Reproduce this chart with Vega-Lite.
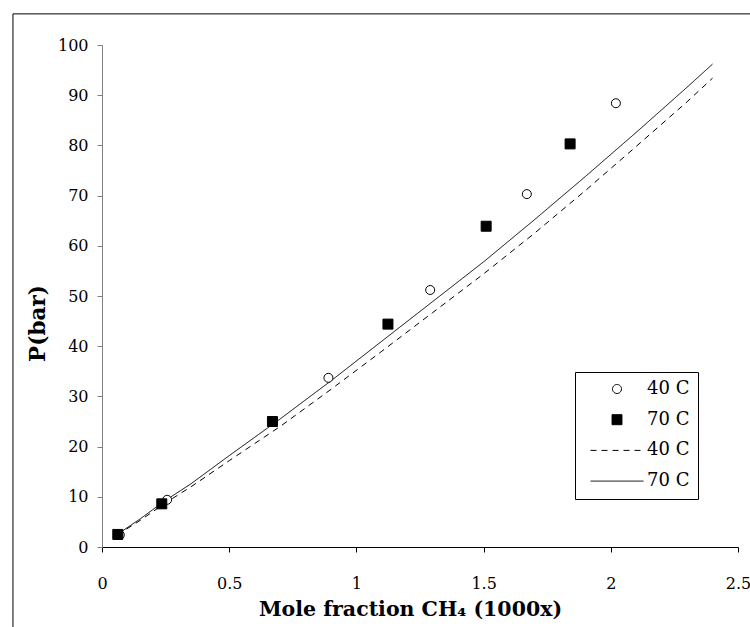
{
  "$schema": "https://vega.github.io/schema/vega-lite/v6.json",
  "width": 636,
  "height": 502,
  "padding": {"left": 12, "top": 13, "right": 0, "bottom": 0},
  "autosize": {"type": "pad"},
  "background": "white",
  "config": {
    "view": {"stroke": null},
    "font": "DejaVu Serif",
    "axis": {"labelFont": "DejaVu Serif", "titleFont": "DejaVu Serif", "labelColor": "black", "titleColor": "black", "grid": false},
    "legend": {"labelFont": "DejaVu Serif"}
  },
  "datasets": {
    "frame": [{"x0": -0.35, "x1": 2.6, "y0": 106.2, "y1": -17.5}],
    "obs": [
      {"x": 0.07, "P": 2.4, "key": "p40"},
      {"x": 0.256, "P": 9.4, "key": "p40"},
      {"x": 0.89, "P": 33.7, "key": "p40"},
      {"x": 1.29, "P": 51.2, "key": "p40"},
      {"x": 1.67, "P": 70.3, "key": "p40"},
      {"x": 2.02, "P": 88.4, "key": "p40"},
      {"x": 0.062, "P": 2.5, "key": "p70"},
      {"x": 0.235, "P": 8.6, "key": "p70"},
      {"x": 0.67, "P": 25.0, "key": "p70"},
      {"x": 1.124, "P": 44.4, "key": "p70"},
      {"x": 1.51, "P": 63.9, "key": "p70"},
      {"x": 1.84, "P": 80.3, "key": "p70"}
    ],
    "model": [
      {"x": 0.06, "P": 2.4, "key": "l40"},
      {"x": 0.15, "P": 5.3, "key": "l40"},
      {"x": 0.25, "P": 8.8, "key": "l40"},
      {"x": 0.35, "P": 12.0, "key": "l40"},
      {"x": 0.5, "P": 17.2, "key": "l40"},
      {"x": 0.7, "P": 24.0, "key": "l40"},
      {"x": 0.9, "P": 31.4, "key": "l40"},
      {"x": 1.1, "P": 39.0, "key": "l40"},
      {"x": 1.3, "P": 46.7, "key": "l40"},
      {"x": 1.5, "P": 54.4, "key": "l40"},
      {"x": 1.7, "P": 62.5, "key": "l40"},
      {"x": 1.9, "P": 71.0, "key": "l40"},
      {"x": 2.1, "P": 79.8, "key": "l40"},
      {"x": 2.3, "P": 88.7, "key": "l40"},
      {"x": 2.4, "P": 93.4, "key": "l40"},
      {"x": 0.06, "P": 2.5, "key": "l70"},
      {"x": 0.15, "P": 5.6, "key": "l70"},
      {"x": 0.25, "P": 9.3, "key": "l70"},
      {"x": 0.35, "P": 12.6, "key": "l70"},
      {"x": 0.5, "P": 18.2, "key": "l70"},
      {"x": 0.7, "P": 25.5, "key": "l70"},
      {"x": 0.9, "P": 33.1, "key": "l70"},
      {"x": 1.1, "P": 41.0, "key": "l70"},
      {"x": 1.3, "P": 48.9, "key": "l70"},
      {"x": 1.5, "P": 56.8, "key": "l70"},
      {"x": 1.7, "P": 65.2, "key": "l70"},
      {"x": 1.9, "P": 73.8, "key": "l70"},
      {"x": 2.1, "P": 82.6, "key": "l70"},
      {"x": 2.3, "P": 91.6, "key": "l70"},
      {"x": 2.4, "P": 96.2, "key": "l70"}
    ]
  },
  "layer": [
    {
      "data": {"name": "frame"},
      "mark": {"type": "rule", "color": "black", "strokeWidth": 1, "clip": false},
      "encoding": {
        "x": {"field": "x0", "type": "quantitative", "scale": {"domain": [0, 2.5], "nice": false, "zero": false}, "title": "Mole fraction CH₄ (1000x)"},
        "y": {"field": "y0", "type": "quantitative", "scale": {"domain": [0, 100], "nice": false}, "title": "P(bar)"},
        "y2": {"field": "y1"}
      }
    },
    {
      "data": {"name": "frame"},
      "mark": {"type": "rule", "color": "black", "strokeWidth": 1, "clip": false},
      "encoding": {
        "x": {"field": "x0", "type": "quantitative", "scale": {"domain": [0, 2.5], "nice": false, "zero": false}, "title": "Mole fraction CH₄ (1000x)"},
        "x2": {"field": "x1"},
        "y": {"field": "y0", "type": "quantitative", "scale": {"domain": [0, 100], "nice": false}, "title": "P(bar)"}
      }
    },
    {
      "data": {"name": "model"},
      "mark": {"type": "line", "color": "black", "strokeWidth": 1},
      "encoding": {
        "x": {
          "field": "x", "type": "quantitative",
          "scale": {"domain": [0, 2.5], "nice": false, "zero": false},
          "axis": {
            "title": "Mole fraction CH₄ (1000x)",
            "values": [0, 0.5, 1, 1.5, 2, 2.5],
            "format": "~g",
            "domainColor": "black", "tickColor": "black", "tickSize": 5,
            "labelFontSize": 16, "labelPadding": 23, "labelFlush": false,
            "titleFontSize": 20.5, "titleFontWeight": "bold",
            "titleX": 308, "titleY": 62, "titleBaseline": "middle"
          }
        },
        "y": {
          "field": "P", "type": "quantitative",
          "scale": {"domain": [0, 100], "nice": false},
          "axis": {
            "title": "P(bar)",
            "values": [0, 10, 20, 30, 40, 50, 60, 70, 80, 90, 100],
            "domainColor": "#808080", "tickColor": "#808080", "tickSize": 5,
            "labelFontSize": 16, "labelPadding": 9,
            "titleFontSize": 21.5, "titleFontWeight": "bold",
            "titleX": -64, "titleY": 278, "titleBaseline": "middle", "titleAlign": "center", "titleAngle": 270
          }
        },
        "strokeDash": {
          "field": "key", "type": "nominal",
          "scale": {"domain": ["p40", "p70", "l40", "l70"], "range": [[1, 0], [1, 0], [6, 5], [1, 0]]},
          "legend": {
            "title": null, "orient": "none", "legendX": 473, "legendY": 327,
            "strokeColor": "black", "padding": 8, "fillColor": "white",
            "labelFont": "DejaVu Serif", "labelFontSize": 18, "labelColor": "black",
            "labelExpr": "substring(datum.label, 1) + ' C'",
            "labelOffset": 21, "symbolOffset": 25, "rowPadding": 12.7,
            "symbolSize": 100, "symbolStrokeColor": "black", "symbolStrokeWidth": 1, "labelLimit": 0,
            "encode": {"symbols": {"update": {"stroke": {"value": "black"}, "strokeWidth": {"value": 1}, "opacity": {"value": 1}}}}
          }
        }
      }
    },
    {
      "data": {"name": "obs"},
      "mark": {"type": "point", "size": 100, "stroke": "black", "strokeWidth": 1, "opacity": 1},
      "encoding": {
        "x": {"field": "x", "type": "quantitative", "scale": {"domain": [0, 2.5], "nice": false, "zero": false}},
        "y": {"field": "P", "type": "quantitative", "scale": {"domain": [0, 100], "nice": false}},
        "shape": {
          "field": "key", "type": "nominal",
          "scale": {"domain": ["p40", "p70", "l40", "l70"], "range": ["M0.9,0A0.9,0.9,0,1,1,-0.9,0A0.9,0.9,0,1,1,0.9,0Z", "square", "M-5.3,0H5.3", "M-5.3,0H5.3"]},
          "legend": {
            "title": null, "orient": "none", "legendX": 473, "legendY": 327,
            "strokeColor": "black", "padding": 8, "fillColor": "white",
            "labelFont": "DejaVu Serif", "labelFontSize": 18, "labelColor": "black",
            "labelExpr": "substring(datum.label, 1) + ' C'",
            "labelOffset": 21, "symbolOffset": 25, "rowPadding": 12.7,
            "symbolSize": 100, "symbolStrokeColor": "black", "symbolStrokeWidth": 1, "labelLimit": 0,
            "encode": {"symbols": {"update": {"stroke": {"value": "black"}, "strokeWidth": {"value": 1}, "opacity": {"value": 1}}}}
          }
        },
        "fill": {
          "field": "key", "type": "nominal",
          "scale": {"domain": ["p40", "p70", "l40", "l70"], "range": ["white", "black", "transparent", "transparent"]},
          "legend": {
            "title": null, "orient": "none", "legendX": 473, "legendY": 327,
            "strokeColor": "black", "padding": 8, "fillColor": "white",
            "labelFont": "DejaVu Serif", "labelFontSize": 18, "labelColor": "black",
            "labelExpr": "substring(datum.label, 1) + ' C'",
            "labelOffset": 21, "symbolOffset": 25, "rowPadding": 12.7,
            "symbolSize": 100, "symbolStrokeColor": "black", "symbolStrokeWidth": 1, "labelLimit": 0,
            "encode": {"symbols": {"update": {"stroke": {"value": "black"}, "strokeWidth": {"value": 1}, "opacity": {"value": 1}}}}
          }
        }
      }
    }
  ]
}
